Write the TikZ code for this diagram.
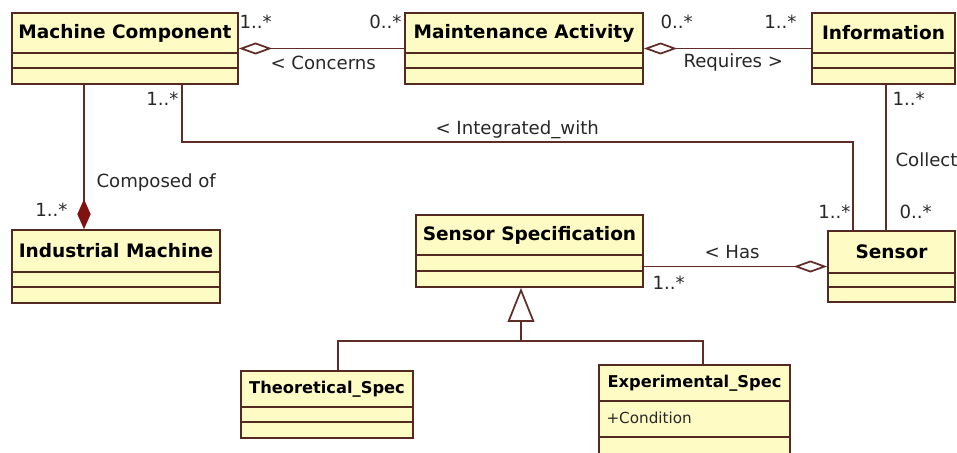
\documentclass[tikz,border=0pt]{standalone}
\usepackage{fontspec}
\setmainfont{DejaVu Sans}
\usetikzlibrary{arrows.meta,calc,fit,positioning}

\definecolor{classfill}{RGB}{255,251,196}
\definecolor{classedge}{RGB}{84,42,32}
\definecolor{linkline}{RGB}{96,44,40}
\definecolor{compred}{RGB}{128,18,18}
\definecolor{labeltext}{RGB}{40,40,40}

\tikzset{every picture/.style={line width=0.75pt}}
\tikzset{
  classbox/.style={draw=classedge, fill=classfill, inner sep=0pt, line width=1.3pt},
  classline/.style={draw=classedge, line width=1.3pt},
  classname/.style={inner sep=0pt, font=\fontsize{13.9}{16}\selectfont\bfseries},
  subname/.style={inner sep=0pt, font=\fontsize{12.2}{14}\selectfont\bfseries},
  assoc/.style={draw=linkline, line width=1.3pt},
  aggr/.style={assoc, -{Diamond[open, length=25pt, width=9pt]}},
  compo/.style={assoc, -{Diamond[length=22.5pt, width=10pt, color=compred, fill=compred]}},
  inherit/.style={assoc, -{Triangle[open, length=25.5pt, width=20pt]}},
  lbl/.style={inner sep=0pt, text=labeltext, font=\fontsize{13.6}{16}\selectfont},
  attr/.style={inner sep=0pt, text=labeltext, font=\fontsize{11.4}{14}\selectfont}
}

% name, top left x y, bottom right x y, compartment lines y y, title
\newcommand{\umlclass}[8]{%
  \node[classbox, fit={(#2,#3) (#4,#5)}] (#1) {};
  \draw[classline] (#2,#6) -- (#4,#6) (#2,#7) -- (#4,#7);
  \node[classname] (#1-name) at ($(#2,#3)!0.5!(#4,#6)$) {#8};}

\begin{document}
\begin{tikzpicture}[x=0.75pt,y=0.75pt,yscale=-1,xscale=1]
		\clip (0,0) rectangle (957,453);
		\fill[white] (0,0) rectangle (957,453);
		
		%Classes
		\umlclass{mc}{12}{13}{238}{84}{53}{68}{Machine Component}
		\umlclass{ma}{405}{13}{643}{84}{53}{68}{Maintenance Activity}
		\umlclass{info}{812}{13}{955}{84}{53}{68}{Information}
		\umlclass{im}{12}{230}{220}{303}{272}{287}{Industrial Machine}
		\umlclass{ss}{416}{215}{643}{287}{255}{271}{Sensor Specification}
		\umlclass{sn}{828}{231}{955}{302}{273}{287}{Sensor}
		\umlclass{th}{241}{371}{413}{438}{407}{422}{}
		\umlclass{ex}{599}{365}{790}{462}{401}{437}{}
		\node[subname] (th-title) at (th-name) {Theoretical\_Spec};
		\node[subname] (ex-title) at (ex-name) {Experimental\_Spec};
		\node[attr, anchor=west] (ex-cond) at (606,418) {+Condition};
		
		%Connector end points
		\coordinate (mcA) at ($(mc.south)+(57,0)$);
		\coordinate (mcB) at ($(mc.south)+(-41,0)$);
		\coordinate (imT) at ($(im.north)+(-32,0)$);
		\coordinate (snA) at ($(sn.north)+(-38.5,0)$);
		\coordinate (infB) at ($(info.south)+(2.5,0)$);
		\coordinate (ssB) at ($(ss.south)+(-8.5,0)$);
		\coordinate (genj) at ($(ssB)+(0,53)$);
		\coordinate (thT) at ($(th.north)+(11,0)$);
		\coordinate (exT) at ($(ex.north)+(8.5,0)$);
		
		%Connectors
		\draw[aggr] (ma.west) -- (mc.east);
		\draw[aggr] (info.west) -- (ma.east);
		\draw[assoc] (mcA) -- ++(0,57) -| (snA);
		\draw[compo] (mcB) -- (imT);
		\draw[assoc] (infB) -- (infB |- sn.north);
		\draw[aggr] (ss.east |- sn.west) -- (sn.west);
		\draw[assoc] (thT) |- (genj) -| (exT);
		\draw[inherit] (genj) -- (ssB);
		
		%Labels
		\node[lbl, anchor=west] (m1) at (239,22) {1..*};
		\node[lbl, anchor=east] (m2) at (402,22) {0..*};
		\node[lbl, anchor=west] (concerns) at (270,63) {< Concerns};
		\node[lbl, anchor=west] (m3) at (660,22) {0..*};
		\node[lbl, anchor=east] (m4) at (797,22) {1..*};
		\node[lbl, anchor=west] (requires) at (683,62) {Requires >};
		\node[lbl, anchor=west] (integrated) at (435,130) {< Integrated\_with};
		\node[lbl, anchor=east] (m5) at (179,99) {1..*};
		\node[lbl, anchor=west] (composed) at (96,182) {Composed of};
		\node[lbl, anchor=east] (m6) at (68,210) {1..*};
		\node[lbl, anchor=west] (m7) at (892,99) {1..*};
		\node[lbl, anchor=west] (collect) at (895,160) {Collect};
		\node[lbl, anchor=west] (m8) at (899,212) {0..*};
		\node[lbl, anchor=east] (m9) at (851,212) {1..*};
		\node[lbl, anchor=west] (has) at (704,252) {< Has};
		\node[lbl, anchor=west] (m10) at (652,283) {1..*};
		
	\end{tikzpicture}
\end{document}
